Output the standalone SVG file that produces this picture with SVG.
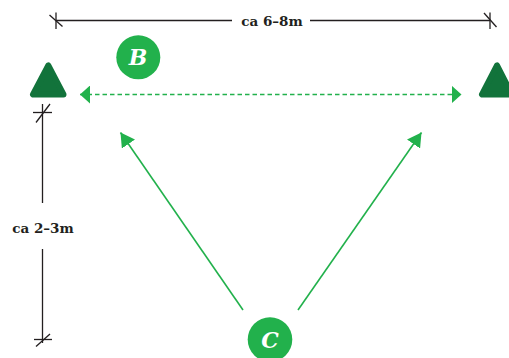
<svg xmlns="http://www.w3.org/2000/svg" width="509" height="358" viewBox="0 0 509 358">
<style>
.dim{stroke:#231f20;stroke-width:1.3;fill:none}
.lbl{font-family:"DejaVu Serif",serif;font-weight:bold;font-size:13.5px;fill:#231f20;text-anchor:middle}
.tri{fill:#12733b;stroke:#12733b;stroke-width:6;stroke-linejoin:round}
.circ{fill:#22b14c}
.let{font-family:"DejaVu Serif",serif;font-weight:bold;font-style:italic;font-size:22px;fill:#fff;text-anchor:middle}
.gl{stroke:#22b14c;stroke-width:1.6;fill:none}
</style>
<defs>
<marker id="ah" viewBox="0 0 14 16" refX="14" refY="8" markerWidth="14" markerHeight="16" markerUnits="userSpaceOnUse" orient="auto">
<path d="M0,0 L14,8 L0,16 z" fill="#22b14c"/>
</marker>
<marker id="ah2" viewBox="0 0 10 18" refX="10" refY="9" markerWidth="10" markerHeight="18" markerUnits="userSpaceOnUse" orient="auto-start-reverse">
<path d="M0,0 L10,9 L0,18 z" fill="#22b14c"/>
</marker>
</defs>
<g id="dimensions">
<line class="dim" x1="56" y1="20.5" x2="232" y2="20.5"/>
<line class="dim" x1="310" y1="20.5" x2="490" y2="20.5"/>
<line class="dim" x1="56" y1="12.5" x2="56" y2="29"/>
<line class="dim" x1="49.5" y1="15" x2="62.5" y2="26.5"/>
<line class="dim" x1="490" y1="12.5" x2="490" y2="29"/>
<line class="dim" x1="484" y1="13" x2="496.5" y2="27"/>
<text class="lbl" x="272" y="25.5">ca 6–8m</text>
<line class="dim" x1="42.5" y1="104" x2="42.5" y2="203"/>
<line class="dim" x1="42.5" y1="249" x2="42.5" y2="343"/>
<line class="dim" x1="33" y1="112.5" x2="52" y2="112.5"/>
<line class="dim" x1="36" y1="122.5" x2="50" y2="104"/>
<line class="dim" x1="34" y1="339.5" x2="52" y2="339.5"/>
<line class="dim" x1="36" y1="346.5" x2="50" y2="334"/>
<text class="lbl" x="43" y="232.5">ca 2–3m</text>
</g>
<g id="connectors">
<line class="gl" x1="80" y1="94.5" x2="461.5" y2="94.5" stroke-dasharray="4.5,3" marker-start="url(#ah2)" marker-end="url(#ah2)"/>
<line class="gl" x1="243" y1="310" x2="120.5" y2="132.5" marker-end="url(#ah)"/>
<line class="gl" x1="298" y1="310" x2="421.5" y2="132.5" marker-end="url(#ah)"/>
</g>
<g id="cone-left">
<path class="tri" d="M48.3,65.5 L33,94.5 L63.5,94.5 Z"/>
</g>
<g id="cone-right">
<path class="tri" d="M497,65.5 L482,94.5 L512,94.5 Z"/>
</g>
<g id="node-B">
<circle class="circ" cx="138.3" cy="57.3" r="22"/>
<text class="let" x="138" y="65">B</text>
</g>
<g id="node-C">
<circle class="circ" cx="270" cy="339.5" r="22.3"/>
<text class="let" x="270" y="347.5">C</text>
</g>
</svg>
